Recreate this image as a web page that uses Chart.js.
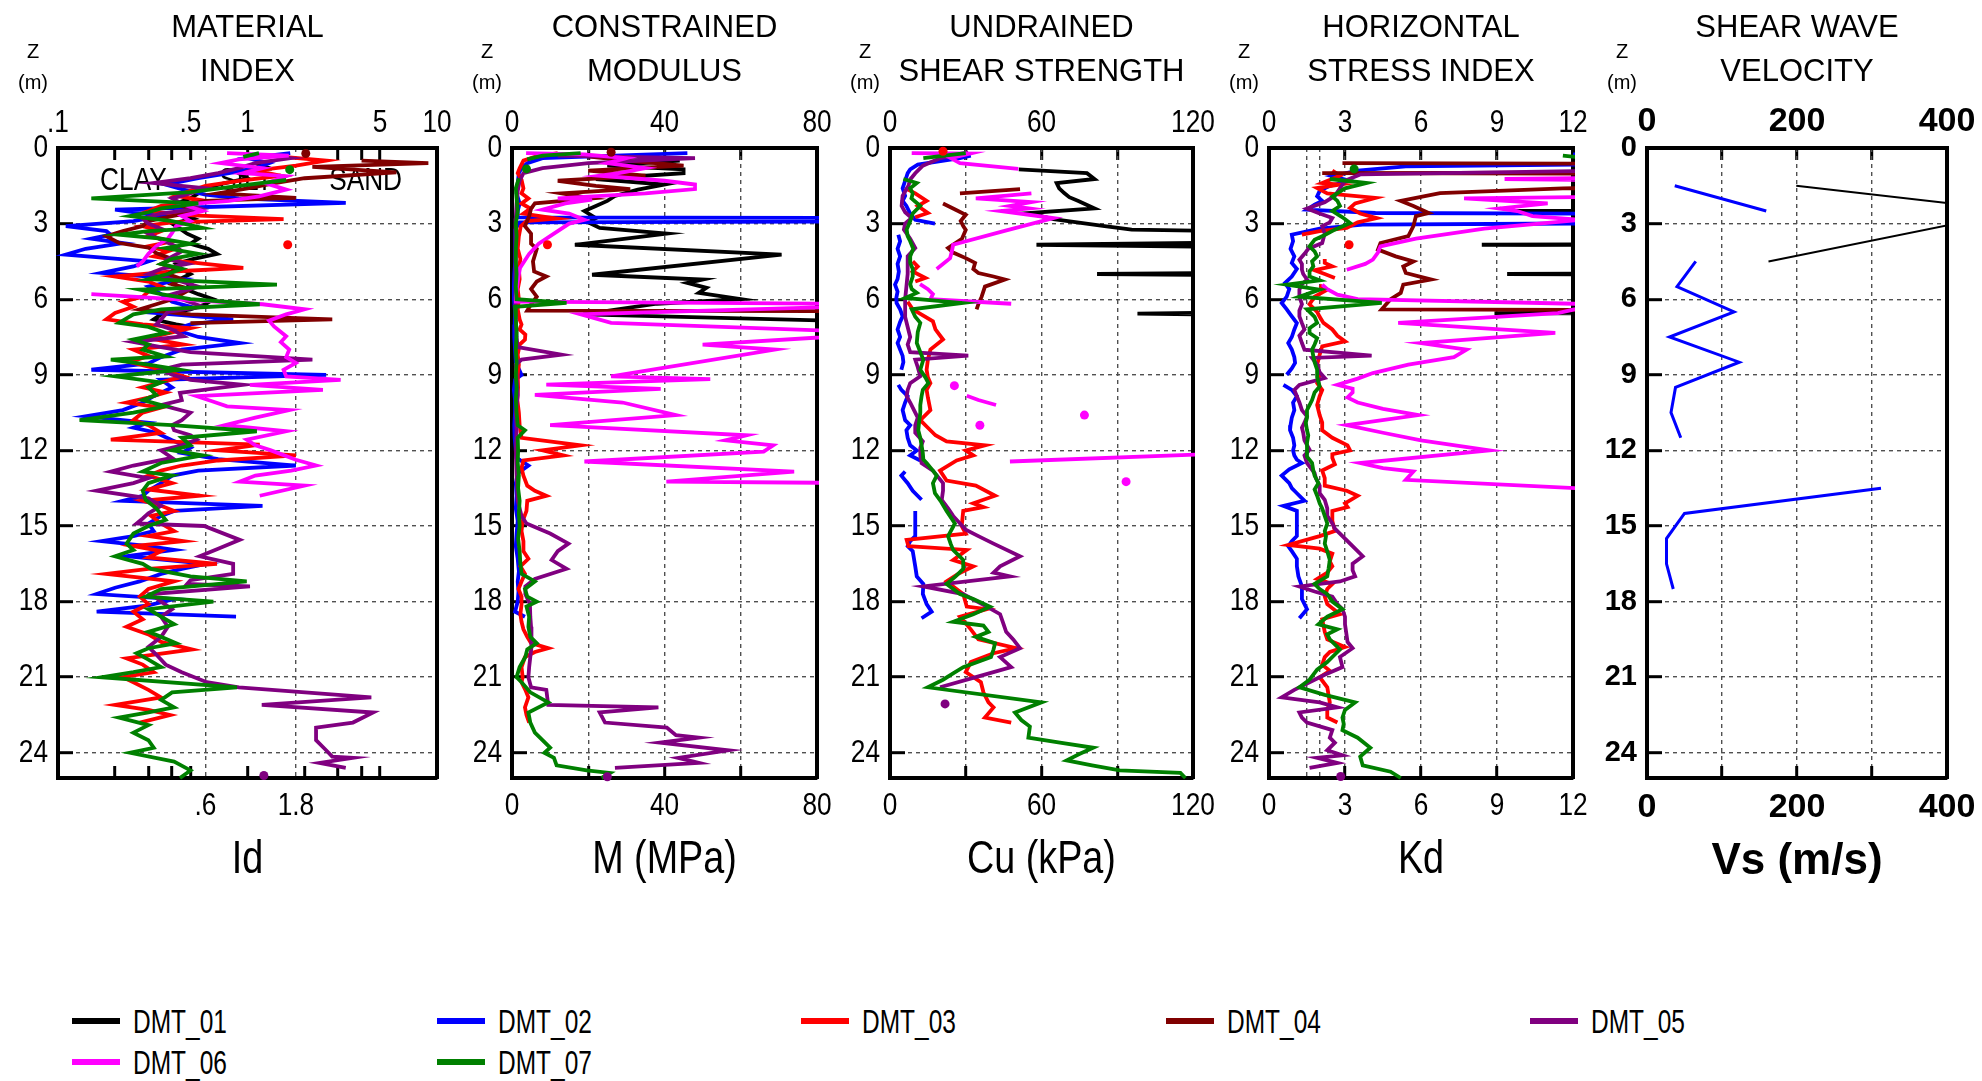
<!DOCTYPE html>
<html>
<head>
<meta charset="utf-8">
<title>DMT soundings</title>
<script src="https://cdn.jsdelivr.net/npm/chart.js@4/dist/chart.umd.min.js"></script>
<style>
  html, body { margin: 0; padding: 0; background: #fff; }
  #page { position: relative; width: 1982px; height: 1081px; overflow: hidden; background: #fff;
          font-family: 'Liberation Sans', Arial, sans-serif; color: #000; }
  #page canvas { position: absolute; top: 0; }
  .ttl { position: absolute; top: 5px; font-size: 31px; line-height: 44px; text-align: center;
         white-space: nowrap; transform: translateX(-50%); }
  .zl { position: absolute; text-align: center; transform: translateX(-50%); line-height: 1;
        white-space: nowrap; font-size: 20px; }
  .leg { position: absolute; height: 40px; display: flex; align-items: center; white-space: nowrap;
         font-size: 34px; }
  .leg i { display: inline-block; width: 48px; height: 6px; margin-right: 13px; }
  .leg span { display: inline-block; transform: scaleX(0.72); transform-origin: 0 50%; }
</style>
</head>
<body>
<div id="page"></div>
<script>
// ---- series ----
const SERIES = ['DMT_01', 'DMT_02', 'DMT_03', 'DMT_04', 'DMT_05', 'DMT_06', 'DMT_07'];
const COLORS = ['#000000', '#0000ff', '#ff0000', '#800000', '#800080', '#ff00ff', '#008000'];

// ---- depth axis ----
const Z_TICKS = [0, 3, 6, 9, 12, 15, 18, 21, 24];
const Z_LABELS = ['0', '3', '6', '9', '12', '15', '18', '21', '24'];

// ---- panel texts ----
const PANEL_TITLES = [['MATERIAL', 'INDEX'], ['CONSTRAINED', 'MODULUS'], ['UNDRAINED', 'SHEAR STRENGTH'],
                      ['HORIZONTAL', 'STRESS INDEX'], ['SHEAR WAVE', 'VELOCITY']];
const AXIS_TITLES = ['Id', 'M (MPa)', 'Cu (kPa)', 'Kd', 'Vs (m/s)'];
const ZONE_LABELS = ['CLAY', 'SILT', 'SAND'];
const ZONE_ID = [0.25, 0.98, 4.2];
const ZONE_Z = 1.32;

// ---- x tick values / labels ----
const ID_TOP_TICKS = [0.1, 0.5, 1, 5, 10];
const ID_TOP_LABELS = ['.1', '.5', '1', '5', '10'];
const ID_BOTTOM_TICKS = [0.6, 1.8];
const ID_BOTTOM_LABELS = ['.6', '1.8'];
const ID_MINOR = [0.2, 0.3, 0.4, 0.5, 1, 2, 3, 4, 5];
const ID_GRID = [0.6, 1.8];

const M_TICKS = [0, 40, 80];
const M_LABELS = ['0', '40', '80'];
const M_MINOR = [20, 40, 60];

const CU_TICKS = [0, 60, 120];
const CU_LABELS = ['0', '60', '120'];
const CU_MINOR = [30, 60, 90];

const KD_TICKS = [0, 3, 6, 9, 12];
const KD_LABELS = ['0', '3', '6', '9', '12'];
const KD_MINOR = [3, 6, 9];
const KD_GRID = [1.5, 2, 3, 6, 9];

const VS_TICKS = [0, 200, 400];
const VS_LABELS = ['0', '200', '400'];
const VS_MINOR = [100, 200, 300];

// ---- material index Id : [depth m, Id] ----
const ID_01 = [[0.6,1.1],[0.8,1.3],[1.0,0.9],[1.2,1.0],[1.4,0.75],[1.6,0.6],[1.8,0.55],[2.0,0.5],[2.2,0.42],[2.4,0.5],[2.6,0.45],[2.8,0.52],[3.0,0.4],[3.2,0.44],[3.4,0.48],[3.6,0.55],[3.8,0.5],[4.0,0.62],[4.2,0.69],[4.4,0.52],[4.6,0.42],[4.8,0.45],[5.0,0.5],[5.2,0.44],[5.4,0.5],[5.6,0.47],[5.8,0.55],[6.0,0.66],[6.2,0.6],[6.4,0.5],[6.6,0.35],[6.8,0.32],[7.0,0.42],[7.1,0.5]];
const ID_02 = [[0.2,1.68],[0.4,1.0],[0.6,1.3],[0.8,1.1],[1.0,0.8],[1.2,0.55],[1.45,0.37],[1.65,0.46],[1.85,0.6],[2.0,0.9],[2.18,3.3],[2.45,0.2],[2.7,0.35],[2.9,0.25],[3.1,0.11],[3.3,0.18],[3.44,0.19],[3.6,0.15],[3.77,0.22],[4.0,0.14],[4.23,0.11],[4.5,0.3],[4.7,0.25],[4.96,0.17],[5.2,0.45],[5.5,0.3],[5.8,0.35],[6.1,0.4],[6.3,0.5],[6.55,0.33],[6.8,0.84],[7.0,0.5],[7.2,0.41],[7.5,0.55],[7.74,0.91],[8.0,0.45],[8.3,0.35],[8.55,0.3],[8.8,0.15],[9.0,2.6],[9.2,0.35],[9.5,0.4],[9.85,0.32],[10.1,0.28],[10.4,0.22],[10.65,0.14],[10.9,0.3],[11.1,0.25],[11.3,0.33],[11.6,0.4],[11.9,0.5],[12.1,0.45],[12.35,0.7],[12.6,1.8],[12.8,0.55],[13.0,0.4],[13.3,0.35],[13.6,0.3],[13.8,0.28],[14.0,0.22],[14.2,1.2],[14.4,0.41],[14.6,0.35],[14.9,0.3],[15.2,0.32],[15.4,0.25],[15.6,0.17],[15.8,0.3],[15.95,0.41],[16.2,0.23],[16.5,0.61],[16.7,0.45],[16.9,0.35],[17.2,0.27],[17.45,0.2],[17.7,0.16],[17.9,0.41],[18.15,0.3],[18.4,0.16],[18.6,0.87]];
const ID_03 = [[0.3,1.3],[0.5,2.6],[0.7,1.8],[0.9,1.1],[1.1,1.5],[1.3,0.9],[1.5,0.6],[1.7,0.5],[1.9,0.42],[2.1,0.6],[2.3,0.35],[2.5,0.3],[2.65,0.45],[2.82,1.55],[2.95,0.4],[3.1,0.28],[3.3,0.35],[3.5,0.3],[3.7,0.4],[3.9,0.3],[4.1,0.38],[4.3,0.32],[4.5,0.45],[4.76,0.95],[4.9,0.4],[5.1,0.2],[5.3,0.3],[5.5,0.35],[5.7,0.3],[5.9,0.28],[6.1,0.22],[6.3,0.25],[6.55,0.2],[6.8,0.18],[7.0,0.28],[7.15,0.5],[7.34,0.39],[7.55,0.3],[7.8,0.46],[8.0,0.25],[8.25,0.3],[8.5,0.24],[8.8,0.35],[9.06,0.46],[9.3,0.35],[9.5,0.28],[9.7,0.37],[9.9,0.3],[10.1,0.23],[10.3,0.35],[10.5,0.28],[10.8,0.25],[11.0,0.3],[11.3,0.35],[11.57,0.19],[11.77,1.16],[12.0,0.7],[12.2,1.8],[12.4,0.7],[12.6,0.45],[12.8,0.35],[13.0,0.3],[13.3,0.4],[13.55,0.3],[13.8,0.56],[14.0,0.28],[14.2,0.35],[14.4,0.41],[14.6,0.31],[14.9,0.35],[15.2,0.41],[15.4,0.3],[15.6,0.46],[15.8,0.25],[16.0,0.35],[16.25,0.3],[16.5,0.69],[16.7,0.3],[16.9,0.18],[17.2,0.41],[17.5,0.3],[17.8,0.27],[18.1,0.3],[18.4,0.25],[18.7,0.28],[19.0,0.23],[19.3,0.3],[19.6,0.35],[19.9,0.51],[20.25,0.23],[20.5,0.28],[20.8,0.32],[21.0,0.22],[21.2,0.25],[21.5,0.3],[21.8,0.35],[22.1,0.2],[22.3,0.3],[22.5,0.39],[22.8,0.27]];
const ID_04 = [[0.5,4.0],[0.6,9.0],[0.75,2.2],[0.97,6.1],[1.2,2.0],[1.4,1.37],[1.6,1.0],[1.8,0.7],[1.98,1.8],[2.1,0.6],[2.3,0.45],[2.5,0.55],[2.7,0.4],[2.9,0.3],[3.1,0.28],[3.3,0.22],[3.5,0.18],[3.77,0.21],[3.95,0.3],[4.17,0.33],[4.4,0.4],[4.6,0.35],[4.8,0.42],[5.0,0.38],[5.2,0.45],[5.4,0.4],[5.6,0.5],[5.8,0.45],[6.0,0.4],[6.2,0.33],[6.4,0.27],[6.6,0.5],[6.8,2.8],[6.95,0.5]];
const ID_05 = [[0.3,1.3],[0.4,1.68],[0.6,1.1],[0.8,0.9],[1.0,0.7],[1.2,0.5],[1.39,0.32],[1.6,0.6],[1.8,0.5],[2.0,0.4],[2.2,0.45],[2.4,0.56],[2.6,0.35],[2.8,0.28],[3.0,0.3],[3.2,0.35],[3.4,0.3],[3.64,0.35],[3.9,0.42],[4.1,0.45],[4.4,0.38],[4.6,0.48],[4.8,0.35],[5.0,0.3],[5.3,0.45],[5.5,0.55],[5.8,0.4],[6.0,0.45],[6.3,0.58],[6.5,0.38],[6.8,0.35],[7.0,0.33],[7.2,0.4],[7.47,0.46],[7.7,0.25],[7.9,0.35],[8.1,0.5],[8.4,2.2],[8.6,0.45],[8.8,0.35],[9.0,0.4],[9.2,0.5],[9.4,0.95],[9.72,0.44],[10.0,0.45],[10.2,0.35],[10.5,0.5],[10.8,0.45],[11.0,0.4],[11.2,0.41],[11.4,0.5],[11.57,0.54],[11.8,0.45],[12.0,0.35],[12.3,0.4],[12.6,0.25],[12.84,0.19],[13.1,0.3],[13.3,0.25],[13.6,0.16],[13.9,0.3],[14.2,0.35],[14.5,0.3],[14.7,0.28],[14.9,0.26],[15.0,0.59],[15.55,0.91],[15.9,0.7],[16.2,0.56],[16.5,0.84],[16.9,0.84],[17.15,0.5],[17.3,0.48],[17.4,1.03],[17.7,0.31],[18.0,0.35],[18.3,0.4],[18.6,0.35],[19.0,0.38],[19.4,0.35],[19.8,0.3],[20.1,0.33],[20.5,0.37],[20.8,0.45],[21.2,0.61],[21.4,0.9],[21.8,4.5],[22.1,1.19],[22.4,4.6],[22.8,3.6],[23.0,2.3],[23.5,2.3],[23.9,2.6],[24.15,2.8],[24.2,3.6],[24.4,2.4],[24.6,3.3]];
const ID_06 = [[0.2,0.78],[0.3,1.65],[0.45,0.9],[0.6,0.72],[0.8,1.2],[1.0,0.95],[1.12,1.6],[1.4,1.25],[1.65,1.6],[1.92,1.15],[2.1,0.8],[2.25,0.46],[2.5,0.58],[2.7,0.45],[2.9,0.5],[3.1,0.42],[3.37,0.4],[3.6,0.38],[3.9,0.33],[4.2,0.3],[4.5,0.28],[4.7,0.26],[4.9,null],[5.8,0.15],[6.0,0.41],[6.2,1.2],[6.4,2.0],[6.6,1.6],[6.85,1.3],[7.08,1.38],[7.3,1.5],[7.47,1.6],[7.7,1.5],[8.0,1.66],[8.3,1.6],[8.53,1.8],[8.8,1.55],[9.06,1.6],[9.2,3.1],[9.4,1.03],[9.6,2.5],[9.85,0.54],[10.05,0.65],[10.25,0.78],[10.4,1.66],[10.7,1.1],[11.0,0.76],[11.24,1.6],[11.57,0.99],[11.8,1.1],[12.0,1.33],[12.37,1.8],[12.6,2.3],[12.8,1.7],[13.0,1.1],[13.24,0.91],[13.4,2.0],[13.8,1.16]];
const ID_07 = [[0.2,1.15],[0.35,0.95],[0.5,null],[1.27,1.6],[1.5,0.9],[1.75,0.5],[2.0,0.15],[2.2,0.55],[2.4,0.35],[2.55,0.3],[2.7,0.24],[2.9,0.4],[3.17,0.58],[3.3,0.3],[3.44,0.21],[3.6,0.35],[3.8,0.5],[3.97,0.37],[4.2,0.55],[4.4,0.4],[4.6,0.35],[4.8,0.45],[5.0,0.38],[5.2,0.3],[5.42,1.43],[5.62,0.27],[5.8,0.35],[6.0,0.5],[6.2,1.16],[6.4,0.35],[6.6,0.25],[6.94,0.21],[7.1,0.3],[7.34,0.37],[7.6,0.25],[7.8,0.3],[8.0,0.28],[8.27,0.37],[8.4,0.19],[8.6,0.3],[8.8,0.44],[9.06,0.2],[9.3,0.35],[9.5,0.3],[9.8,0.33],[10.0,0.28],[10.25,0.37],[10.5,0.25],[10.8,0.13],[11.0,0.4],[11.24,1.12],[11.5,0.45],[11.8,0.5],[12.0,0.4],[12.2,0.58],[12.5,0.35],[12.84,0.28],[13.0,0.4],[13.3,0.3],[13.6,0.28],[13.96,0.29],[14.3,0.33],[14.76,0.37],[15.0,0.3],[15.3,0.25],[15.7,0.23],[15.95,0.25],[16.2,0.2],[16.5,0.28],[16.7,0.31],[17.0,0.5],[17.2,0.99],[17.5,0.35],[17.8,0.29],[18.0,0.66],[18.3,0.3],[18.6,0.35],[18.9,0.41],[19.2,0.3],[19.4,0.35],[19.65,0.42],[19.85,0.3],[20.05,0.26],[20.3,0.3],[20.6,0.35],[20.8,0.25],[21.0,0.17],[21.4,0.88],[21.6,0.4],[21.9,0.35],[22.2,0.41],[22.4,0.3],[22.6,0.21],[22.9,0.3],[23.2,0.25],[23.5,0.3],[23.8,0.32],[24.0,0.24],[24.35,0.41],[24.7,0.5],[25.0,0.44]];
// single readings : [series index, depth m, Id]
const ID_DOTS = [[3,0.22,2.03],[6,0.86,1.67],[2,3.84,1.63],[4,24.9,1.22]];

// ---- constrained modulus M (MPa) ----
const M_01 = [[0.5,44],[0.7,25],[0.85,45],[1.0,45],[1.23,22],[1.45,40],[1.65,33],[1.9,27],[2.1,25],[2.3,22],[2.5,19],[2.78,22],[2.95,20],[3.17,23],[3.4,40.6],[3.84,16.5],[4.23,70.7],[5.03,21],[5.22,50],[5.35,46],[5.55,51],[5.75,49],[6.0,60],[6.18,38],[6.6,18.7],[6.95,110]];
const M_02 = [[0.2,46],[0.4,8],[0.6,4],[0.8,2.5],[1.0,1.8],[1.4,1.5],[1.8,1.2],[2.2,2],[2.5,1.5],[2.75,1.5],[2.8,150],[2.9,150],[2.95,2],[3.2,1],[3.6,1],[4.0,0.8],[4.5,0.8],[5.0,0.6],[5.5,0.5],[6.0,0.5],[6.5,0.8],[7.0,0.7],[7.5,0.6],[8.0,0.8],[8.5,1.0],[9.0,2.5],[9.2,0.8],[9.6,0.5],[10.0,0.8],[10.5,0.8],[11.0,0.6],[11.5,0.7],[12.0,1.0],[12.3,1.2],[12.6,4.3],[12.9,1.5],[13.3,1.0],[13.8,1.2],[14.3,1.0],[14.8,1.5],[15.3,1.2],[15.8,1.0],[16.3,1.5],[16.8,1.8],[17.2,1.5],[17.6,1.7],[18.0,1.5],[18.4,0.8],[18.6,3.4]];
const M_03 = [[0.2,12],[0.35,6],[0.5,3],[0.8,2],[1.0,1.5],[1.26,2.5],[1.6,3],[1.8,2.5],[2.0,4.3],[2.2,2.5],[2.4,4.8],[2.6,3],[2.7,7.3],[2.8,11.7],[2.9,3.8],[3.1,2.3],[3.5,1.8],[4.0,1.5],[4.4,2.2],[4.8,1.8],[5.2,2.0],[5.6,1.5],[6.0,1.8],[6.4,1.5],[6.8,2.0],[7.0,2.5],[7.2,2.0],[7.4,3.5],[7.6,3.4],[7.8,2.0],[8.2,1.5],[8.6,1.8],[9.0,1.5],[9.5,1.6],[10.0,1.4],[10.5,1.8],[11.0,2.0],[11.5,2.5],[11.8,18],[12.0,8],[12.2,13.5],[12.4,3],[12.7,2.5],[13.0,3],[13.4,4],[13.6,6],[13.8,9],[14.0,4],[14.4,3.8],[14.8,2.8],[15.2,2.5],[15.6,3],[16.0,3],[16.3,4.3],[16.6,2.2],[16.9,3.4],[17.2,2.5],[17.5,1.7],[17.8,2.5],[18.1,2.5],[18.5,2.2],[18.8,2.5],[19.1,3],[19.4,4],[19.65,5],[19.85,9.5],[20.0,6],[20.2,3.4],[20.6,2.5],[21.0,2.8],[21.2,2.5],[21.5,3.5],[21.8,4.3],[22.2,3.4],[22.5,3.8],[22.8,4.5]];
const M_04 = [[0.3,18],[0.5,30],[0.7,45],[0.9,20],[1.1,35],[1.3,12],[1.5,22],[1.63,31],[1.8,13],[2.0,21],[2.2,6],[2.4,5],[2.7,4.5],[3.1,3.4],[3.4,5],[3.8,5],[4.0,6.5],[4.5,5.5],[4.9,5.8],[5.1,9],[5.3,6.5],[5.6,5],[5.9,6.5],[6.2,5],[6.45,4],[6.55,300]];
const M_05 = [[0.3,12],[0.4,48],[0.6,20],[0.8,8],[1.0,3],[1.3,2],[1.7,1.5],[2.2,1.2],[2.8,1.0],[3.5,1.0],[4.5,0.8],[5.5,0.9],[6.5,1.0],[7.5,1.2],[7.9,1.5],[8.2,13],[8.4,2.5],[8.6,1.0],[9.2,1.2],[9.8,1.5],[10.5,1.0],[11.2,1.2],[12.0,1.0],[13.0,1.2],[14.0,1.5],[14.6,2.5],[14.9,3.8],[15.3,10],[15.7,14.8],[16.0,12],[16.35,10.4],[16.7,14.3],[17.1,6],[17.4,3.5],[17.7,3.5],[18.1,4.7],[18.6,4.8],[19.0,5],[19.4,5.2],[19.8,5],[20.2,4.8],[20.6,4.5],[21.0,4.3],[21.4,5],[21.5,9],[22.1,9.5],[22.2,38.4],[22.4,23],[22.8,24.4],[23.0,40.6],[23.3,43],[23.4,49],[23.6,38.8],[23.9,56.7],[24.2,43.6],[24.4,49],[24.6,27]];
const M_06 = [[0.2,3.7],[0.25,19],[0.4,30],[0.6,25],[0.8,35],[1.0,28],[1.1,23],[1.3,40],[1.45,48],[1.63,48],[1.8,35],[2.0,12],[2.05,21],[2.2,14],[2.45,8],[2.6,15],[2.85,19],[3.0,15],[3.4,11],[3.8,7],[4.2,4.5],[4.76,2.1],[5.3,1.5],[5.9,1.0],[6.1,1.0],[6.2,110],[6.6,18],[6.94,26],[7.34,100],[7.8,50],[8.0,69],[9.06,26],[9.17,52],[9.39,9],[9.56,39],[9.8,6],[10.1,29],[10.6,43],[11.0,10],[11.4,61.5],[11.6,56],[11.8,68.5],[12.05,66],[12.44,19],[12.84,74],[13.24,40.5],[13.3,95]];
const M_07 = [[0.2,18],[0.3,8],[0.45,4],[0.6,null],[1.2,1.8],[1.6,1.0],[2.0,1.2],[2.5,1.5],[3.0,1.0],[3.5,1.2],[4.0,1.0],[4.5,1.0],[5.0,1.2],[5.5,1.0],[6.0,1.2],[6.15,14.3],[6.3,0.8],[6.8,1.0],[7.3,1.2],[8.0,1.0],[8.5,1.2],[9.0,1.0],[9.5,1.2],[10.0,1.0],[10.5,1.2],[11.0,1.5],[11.2,3.4],[11.5,1.5],[12.0,1.6],[12.5,1.5],[13.0,1.8],[13.5,1.6],[14.0,2.0],[14.5,1.8],[15.0,2.0],[15.5,1.6],[16.0,2.0],[16.5,2.2],[16.9,2.5],[17.2,6],[17.5,3.4],[17.8,4],[18.0,6.5],[18.2,3.8],[18.6,4.5],[19.0,4.3],[19.4,4.8],[19.65,6.5],[19.9,4],[20.2,3.5],[20.6,2],[21.0,1.2],[21.2,2.5],[21.6,4.8],[22.0,9.5],[22.4,4.3],[22.8,4.8],[23.2,6],[23.5,8],[23.8,10],[24.0,8.5],[24.2,11],[24.5,11.7],[24.7,19.6],[24.8,25.7],[25.0,23.5]];
const M_DOTS = [[3,0.17,26],[6,0.83,3.8],[2,3.84,9.3],[4,24.95,25]];

// ---- undrained shear strength Cu (kPa) ----
const CU_01 = [[0.85,51],[1.0,78],[1.23,81],[1.39,66],[1.6,67],[1.79,69],[1.95,71],[2.1,74.6],[2.4,81],[2.58,55],[2.82,64.7],[3.1,85],[3.24,95.7],[3.35,170],[3.7,170],[3.84,58],[4.0,200],[4.9,200],[5.0,82],[5.1,200],[6.45,200],[6.57,98],[6.72,200],[7.0,200]];
const CU_02 = [[0.3,32],[0.4,27.7],[0.66,11],[0.85,8],[1.0,7],[1.3,6],[1.6,5],[1.9,6],[2.1,5],[2.3,6.5],[2.6,8],[2.85,10],[3.0,17.8],[3.1,null],[3.44,3.3],[3.7,4],[4.0,3],[4.3,4],[4.6,3],[4.9,3.5],[5.2,3],[5.42,2],[5.7,3],[5.95,2.5],[6.15,2.6],[6.4,4],[6.68,5],[6.9,4],[7.2,3],[7.5,4],[7.74,3],[8.0,4],[8.25,5],[8.5,5.3],[8.8,4.5],[8.95,null],[9.4,3.3],[9.6,4.5],[9.85,7],[10.1,6],[10.4,5],[10.8,6],[11.0,8],[11.2,6.5],[11.5,7],[11.8,8],[12.0,10.6],[12.2,8],[12.4,12],[12.55,null],[12.84,6],[13.0,4.5],[13.3,7],[13.6,9],[13.96,12.5],[14.1,null],[14.4,10],[14.7,10],[15.0,10],[15.4,10],[15.6,8],[15.8,7],[16.0,9],[16.3,9.5],[16.6,10],[17.0,10.6],[17.3,13.2],[17.7,13],[18.1,14.5],[18.4,16.5],[18.66,12.5]];
const CU_03 = [[1.59,6],[1.8,10],[2.1,14.5],[2.3,11],[2.58,15],[2.75,10],[2.9,null],[4.5,9],[4.7,11],[4.9,9],[5.16,14],[5.3,10],[5.45,null],[6.1,7],[6.4,9],[6.88,17],[7.2,18],[7.6,21],[8.0,16],[8.4,15],[8.8,14.5],[9.1,15],[9.33,16],[9.6,14.5],[9.9,15],[10.4,16],[10.8,12],[11.1,15],[11.4,18],[11.64,22.4],[11.8,37.6],[12.0,30],[12.2,33],[12.4,26.4],[12.8,19.8],[13.2,22.4],[13.4,34],[13.8,41.6],[14.1,33],[14.25,37],[14.4,29],[15.0,28.4],[15.3,30],[15.55,6.6],[15.8,7.3],[15.95,30.4],[16.35,25],[16.6,33],[16.9,27],[17.2,22.4],[17.7,29],[18.2,30.4],[18.3,38.3],[18.6,27.7],[19.1,32],[19.5,35],[19.85,50],[20.05,41],[20.4,32],[20.8,30],[21.2,36],[21.6,37],[22.0,39],[22.2,41],[22.6,37.6],[22.8,48]];
const CU_04 = [[1.63,51.5],[1.8,27.7],[1.95,null],[2.2,21],[2.45,26],[2.65,30],[2.9,28],[3.1,29],[3.25,30],[3.6,28.5],[3.97,23],[4.15,25],[4.37,30],[4.56,33.7],[4.8,33],[4.96,35],[5.1,41],[5.22,45.5],[5.5,37.6],[5.9,36.3],[6.2,35],[6.4,34.3]];
const CU_05 = [[0.17,31],[0.4,20],[0.7,13],[1.0,10],[1.25,8],[1.5,7.3],[1.9,5],[2.3,4.6],[2.55,6],[2.78,8.6],[3.0,6],[3.24,5.5],[3.6,8],[3.97,10],[4.3,7],[4.56,7],[5.0,7],[5.5,6.5],[6.0,6],[6.4,6],[6.7,6],[7.1,7],[7.5,8],[7.8,7],[8.1,8],[8.24,31],[8.4,10],[8.7,11],[9.06,12],[9.33,8],[9.6,7],[9.85,6.6],[10.1,8],[10.4,9.5],[10.7,11],[11.0,10],[11.3,10],[11.64,13],[11.9,12],[12.2,12],[12.5,12.5],[12.8,17],[13.05,19],[13.3,21],[13.6,21],[13.96,20.5],[14.3,23],[14.6,25],[15.15,30],[15.4,35],[15.7,41],[16.2,51.5],[16.6,43.6],[16.85,41],[17.0,47.5],[17.4,13.2],[17.7,29],[18.2,38.3],[18.5,43.6],[18.9,45],[19.2,46],[19.5,48.8],[19.85,51.5],[20.2,43.6],[20.6,48],[21.0,34],[21.4,19.8]];
const CU_06 = [[0.2,8.6],[0.22,31.7],[0.4,24],[0.6,27.7],[0.83,50.8],[0.9,null],[1.8,56],[2.0,34],[2.15,56],[2.3,47.5],[2.4,55],[2.5,44],[2.78,64.7],[3.3,45],[3.84,25],[4.1,24.5],[4.37,23.8],[4.8,18.5],[5.0,null],[5.4,11.9],[5.6,15],[5.8,17],[6.0,16],[6.18,48],[6.3,null],[9.83,30.4],[10.0,35],[10.2,42],[10.3,null],[12.15,125],[12.44,47.5]];
const CU_07 = [[0.2,30],[0.4,13.2],[0.55,null],[1.23,5.3],[1.39,10.6],[1.6,8],[1.8,9],[2.0,8.5],[2.3,12],[2.6,9],[2.9,8],[3.24,6.6],[3.5,7],[3.7,8],[4.0,9.2],[4.3,8],[4.56,8],[4.8,9],[5.1,9],[5.4,8],[5.6,8.6],[5.75,10.6],[5.95,6],[6.15,28.4],[6.4,8.6],[6.7,10],[6.94,12],[7.3,11],[7.74,10.6],[8.1,12],[8.4,13.2],[8.8,12],[9.1,14],[9.33,15.2],[9.6,13],[9.85,12.5],[10.2,12],[10.5,12],[10.9,11.5],[11.2,11.2],[11.5,12],[11.8,12.5],[12.1,13],[12.36,13.2],[12.5,14.5],[12.8,17],[13.0,18.5],[13.3,17],[13.7,17.8],[14.0,20],[14.4,22.4],[14.9,25.7],[15.4,23],[15.7,24],[15.95,25],[16.35,29],[16.7,29],[17.0,26],[17.3,22.4],[17.7,27.7],[17.9,33],[18.2,39.6],[18.5,33],[18.8,25],[18.95,37],[19.2,39],[19.4,34],[19.65,41.6],[19.9,41],[20.2,40],[20.6,29],[20.85,25],[21.1,21],[21.4,15],[22.0,60],[22.4,49.5],[22.7,52],[22.96,55.4],[23.4,54.8],[23.6,67.3],[23.8,80.5],[24.05,75],[24.3,70],[24.5,80],[24.7,91],[24.8,115],[25.0,117]];
const CU_DOTS = [[2,0.13,21],[5,9.43,25.5],[5,10.6,77],[5,11.0,35.6],[5,13.24,93.5],[4,22.06,21.8]];

// ---- horizontal stress index Kd ----
const KD_01 = [[0.6,40],[2.4,40],[2.5,9.6],[2.6,40],[3.7,40],[3.84,8.4],[3.98,40],[4.88,40],[5.0,9.4],[5.12,40],[6.4,40],[6.55,8.9],[6.7,40],[7.0,40]];
const KD_02 = [[0.25,12],[0.4,14],[0.57,20],[0.73,5.4],[0.9,3.5],[1.12,2.5],[1.3,3.2],[1.5,2.4],[1.7,2.0],[1.92,1.9],[2.1,2.1],[2.25,1.8],[2.45,1.5],[2.58,4.2],[2.65,30],[2.9,30],[3.04,3.7],[3.2,2],[3.44,0.9],[3.7,0.95],[4.0,0.85],[4.3,1.0],[4.56,0.9],[4.8,1.1],[5.1,0.9],[5.36,0.63],[5.6,0.8],[5.9,0.7],[6.15,0.5],[6.4,0.7],[6.68,0.9],[6.95,1.1],[7.2,1.0],[7.5,0.9],[7.74,0.76],[8.0,0.9],[8.3,1.0],[8.53,1.03],[8.75,0.9],[9.0,0.7],[9.15,null],[9.4,0.57],[9.6,0.9],[9.85,1.1],[10.1,0.95],[10.4,1.0],[10.7,0.9],[11.0,0.85],[11.2,0.83],[11.5,0.95],[11.8,1.0],[12.0,0.95],[12.2,1.0],[12.37,1.1],[12.5,1.3],[12.75,0.8],[13.0,0.5],[13.3,0.8],[13.5,0.9],[13.7,1.1],[14.0,1.4],[14.2,0.57],[14.4,1.1],[14.7,1.1],[15.0,1.1],[15.4,1.1],[15.6,0.9],[15.8,0.76],[16.0,0.9],[16.3,1.1],[16.6,1.1],[17.0,1.16],[17.4,1.3],[17.9,1.3],[18.3,1.5],[18.66,1.2]];
const KD_03 = [[0.9,2.5],[1.1,2.8],[1.39,2.1],[1.45,2.8],[1.59,1.9],[1.8,2.3],[1.98,4.2],[2.2,3.4],[2.38,3.2],[2.6,3.6],[2.78,4.25],[2.95,3.5],[3.17,3.07],[3.3,2.0],[3.44,1.3],[3.5,null],[4.4,2.2],[4.56,2.2],[4.7,2.5],[4.85,1.8],[5.0,2.2],[5.16,2.6],[5.3,null],[5.45,2.0],[5.62,2.3],[5.9,1.8],[6.2,1.6],[6.5,1.9],[6.7,2.0],[6.94,2.15],[7.2,2.5],[7.45,2.7],[7.67,3.0],[7.87,2.1],[8.2,2.0],[8.6,1.9],[9.0,2.0],[9.33,1.9],[9.6,2.1],[9.85,2.0],[10.2,1.9],[10.6,2.0],[10.9,2.1],[11.2,2.1],[11.5,2.5],[11.8,3.1],[12.0,3.2],[12.15,2.5],[12.3,2.5],[12.55,2.6],[12.8,2.1],[13.1,2.2],[13.4,2.2],[13.6,3.07],[13.8,3.5],[14.1,3.0],[14.25,3.1],[14.4,2.5],[14.8,2.5],[15.2,2.6],[15.4,2.0],[15.75,0.76],[15.9,2.0],[16.1,2.5],[16.4,2.4],[16.6,2.5],[16.85,2.3],[17.1,1.9],[17.3,2.5],[17.5,2.3],[17.8,2.2],[18.1,2.3],[18.5,2.8],[18.7,2.1],[19.2,2.2],[19.5,2.3],[19.8,3.0],[20.0,2.4],[20.2,2.2],[20.5,2.1],[20.75,2.4],[21.0,2.0],[21.4,2.3],[22.0,2.4],[22.3,2.3],[22.6,2.3],[22.8,2.7]];
const KD_04 = [[0.6,2.9],[0.7,50],[0.9,50],[1.0,2.1],[1.1,50],[1.45,50],[1.6,11.6],[1.79,6.75],[2.1,5.2],[2.3,5.7],[2.58,6.3],[2.7,5.8],[3.1,5.7],[3.5,5.5],[3.77,4.4],[4.03,4.3],[4.3,5.0],[4.5,5.7],[4.7,5.3],[4.96,5.4],[5.22,6.4],[5.42,5.3],[5.75,5.2],[6.0,4.8],[6.4,4.45],[6.55,50]];
const KD_05 = [[0.3,20],[0.8,20],[1.05,3.6],[1.3,3.0],[1.6,2.8],[1.9,2.6],[2.15,2.2],[2.4,1.5],[2.6,2.0],[2.78,2.5],[2.95,2.4],[3.1,2.1],[3.4,2.2],[3.77,2.1],[4.0,1.55],[4.2,1.4],[4.43,1.2],[4.6,1.3],[4.83,1.3],[5.0,1.35],[5.22,1.5],[5.4,1.3],[5.62,1.2],[5.9,1.2],[6.2,1.3],[6.45,1.2],[6.68,1.2],[6.95,1.3],[7.2,1.4],[7.45,1.2],[7.74,1.3],[8.0,1.4],[8.24,4.05],[8.33,1.7],[8.6,1.9],[8.9,2.0],[9.13,2.2],[9.4,1.2],[9.6,1.0],[9.85,1.1],[10.1,1.2],[10.4,1.3],[10.65,1.5],[10.9,1.4],[11.1,1.3],[11.3,1.35],[11.6,1.4],[11.97,1.6],[12.2,1.4],[12.5,1.5],[12.9,1.8],[13.1,1.85],[13.4,2.0],[13.7,2.0],[13.96,2.2],[14.3,2.3],[14.6,2.3],[14.9,2.5],[15.1,2.6],[15.4,2.9],[15.8,3.3],[16.2,3.7],[16.5,3.3],[16.75,3.3],[17.0,3.4],[17.2,2.8],[17.4,1.2],[17.6,1.8],[17.8,2.5],[18.1,2.7],[18.3,2.9],[18.6,3.0],[18.9,3.0],[19.25,3.05],[19.6,3.1],[19.85,3.3],[20.2,2.8],[20.6,2.9],[20.9,2.2],[21.2,1.6],[21.5,1.0],[21.8,0.5],[22.0,2.0],[22.2,2.7],[22.4,1.2],[22.6,1.3],[22.8,1.5],[23.1,2.5],[23.4,2.4],[23.6,2.6],[23.9,2.3],[24.1,2.9],[24.2,1.9],[24.4,2.7],[24.6,1.6]];
const KD_06 = [[0.3,20],[1.1,20],[1.23,9.3],[1.35,20],[1.85,20],[2.0,7.7],[2.2,11],[2.4,9.1],[2.5,9.8],[2.7,10.4],[2.85,12.3],[3.2,8.5],[3.6,5.8],[3.9,4.4],[4.15,4.3],[4.43,4.1],[4.6,3.8],[4.83,3.07],[4.9,null],[5.42,2.1],[5.6,2.3],[5.82,2.7],[6.0,3.5],[6.2,13],[6.55,11.4],[6.94,5.1],[7.34,11.3],[7.74,6.0],[8.0,7.8],[8.3,7.3],[8.6,5.5],[8.93,4.1],[9.15,3.5],[9.4,2.7],[9.55,3.3],[9.7,3.3],[9.9,3.1],[10.1,3.5],[10.35,4.5],[10.6,5.9],[11.0,3.07],[11.3,4.5],[11.6,6.0],[12.0,8.7],[12.5,3.6],[12.7,4.5],[12.84,5.7],[13.17,5.4],[13.5,12.2]];
const KD_07 = [[0.3,11.6],[0.4,12.5],[0.5,null],[1.23,2.4],[1.39,3.85],[1.6,3.0],[1.92,2.5],[2.1,2.7],[2.3,2.8],[2.5,2.5],[2.75,2.9],[2.98,3.2],[3.24,2.6],[3.45,2.2],[3.64,1.8],[3.9,1.6],[4.1,1.8],[4.3,1.9],[4.5,1.7],[4.7,1.75],[4.9,1.6],[5.1,1.6],[5.25,2.0],[5.42,0.7],[5.62,2.0],[5.9,1.2],[6.15,4.45],[6.4,1.5],[6.7,1.8],[6.94,1.9],[7.15,1.6],[7.34,1.6],[7.55,1.9],[7.8,1.8],[8.0,1.7],[8.27,1.75],[8.5,1.8],[8.8,1.9],[9.1,1.9],[9.46,2.0],[9.7,1.8],[10.0,1.7],[10.4,1.5],[10.7,1.5],[10.9,1.45],[11.2,1.5],[11.4,1.55],[11.7,1.5],[12.0,1.5],[12.25,1.5],[12.5,1.7],[12.8,1.75],[13.0,1.8],[13.3,1.95],[13.55,1.8],[13.8,1.9],[14.1,2.0],[14.3,2.1],[14.6,2.2],[14.9,2.3],[15.2,2.2],[15.4,2.25],[15.7,2.2],[16.0,2.3],[16.35,2.4],[16.7,2.35],[17.0,2.3],[17.3,1.8],[17.5,2.0],[17.7,2.3],[18.0,2.5],[18.3,2.9],[18.6,2.3],[18.9,1.95],[19.1,2.7],[19.3,2.3],[19.5,2.4],[19.9,2.8],[20.1,2.6],[20.4,2.3],[20.7,1.9],[21.1,1.6],[21.4,1.2],[21.7,2.2],[22.0,3.4],[22.3,3.0],[22.6,2.9],[22.85,2.95],[23.1,2.9],[23.4,3.5],[23.8,4.0],[24.15,3.6],[24.5,3.7],[24.75,4.8],[25.0,5.2]];
const KD_DOTS = [[6,0.83,3.36],[2,3.84,3.16],[4,24.94,2.83]];

// ---- shear wave velocity Vs (m/s) ----
const VS_01 = [[1.5,199],[2.5,495],[4.5,162]];
const VS_02 = [[1.5,37],[2.5,159],[3.5,null],[4.5,65],[5.5,40],[6.5,116],[7.5,30],[8.5,123],[9.5,38],[10.5,32],[11.5,45],[12.5,null],[13.5,312],[14.5,50],[15.5,26],[16.5,26],[17.5,35]];

// ---- layout ----
const CANVAS_H = 900, PLOT_TOP = 148, PLOT_BOTTOM = 778, Y_AXIS_W = 58, PAD_RIGHT = 42;
const SANS = "'Liberation Sans', Arial, sans-serif";
const GRID_COLOR = '#505050';
const CLEAR = 'rgba(0,0,0,0)';

const PANELS = [
  { left: 58, right: 437, type: 'logarithmic', min: 0.1, max: 10,
    series: [ID_01, ID_02, ID_03, ID_04, ID_05, ID_06, ID_07], dots: ID_DOTS,
    top: [ID_TOP_TICKS, ID_TOP_LABELS], bottom: [ID_BOTTOM_TICKS, ID_BOTTOM_LABELS],
    minor: ID_MINOR, grid: ID_GRID, zones: true },
  { left: 512, right: 817, type: 'linear', min: 0, max: 80,
    series: [M_01, M_02, M_03, M_04, M_05, M_06, M_07], dots: M_DOTS,
    top: [M_TICKS, M_LABELS], bottom: [M_TICKS, M_LABELS], minor: M_MINOR, grid: M_MINOR },
  { left: 890, right: 1193, type: 'linear', min: 0, max: 120,
    series: [CU_01, CU_02, CU_03, CU_04, CU_05, CU_06, CU_07], dots: CU_DOTS,
    top: [CU_TICKS, CU_LABELS], bottom: [CU_TICKS, CU_LABELS], minor: CU_MINOR, grid: CU_MINOR },
  { left: 1269, right: 1573, type: 'linear', min: 0, max: 12,
    series: [KD_01, KD_02, KD_03, KD_04, KD_05, KD_06, KD_07], dots: KD_DOTS,
    top: [KD_TICKS, KD_LABELS], bottom: [KD_TICKS, KD_LABELS], minor: KD_MINOR, grid: KD_GRID },
  { left: 1647, right: 1947, type: 'linear', min: 0, max: 400,
    series: [VS_01, VS_02], dots: [], widths: [2, 3], bold: true,
    top: [VS_TICKS, VS_LABELS], bottom: [VS_TICKS, VS_LABELS], minor: VS_MINOR, grid: VS_MINOR }
];

function tickFont(p, forDepth) {
  if (p.bold) return { family: SANS, size: forDepth ? 29 : 34, weight: 'bold', lineHeight: 1.2 };
  return { family: SANS, size: 32, weight: 'normal', lineHeight: 1.2 };
}

// keep the plot box fixed: no extra room is reserved for labels overhanging the box ends
function noOverhang(s) { s.paddingLeft = 0; s.paddingRight = 0; s.paddingTop = 0; s.paddingBottom = 0; }

function xAxis(p, position, ticks, labels, withGrid) {
  const labelOf = new Map(ticks.map((v, i) => [v, labels[i]]));
  const marks = new Set(p.minor);
  const gridSet = new Set(withGrid ? p.grid : []);
  const values = [...new Set([p.min, p.max, ...ticks, ...p.minor, ...gridSet])].sort((a, b) => a - b);
  return {
    type: p.type, position, min: p.min, max: p.max,
    afterBuildTicks: s => { s.ticks = values.map(v => ({ value: v })); },
    afterFit: s => { s.height = position === 'top' ? PLOT_TOP : CANVAS_H - PLOT_BOTTOM; noOverhang(s); },
    ticks: { autoSkip: false, maxRotation: 0, minRotation: 0, color: '#000', font: tickFont(p, false),
             padding: position === 'top' ? 18 : 21,
             callback: (v, i, t) => labelOf.has(t[i].value) ? labelOf.get(t[i].value) : '' },
    grid: { display: true, drawOnChartArea: withGrid, drawTicks: true, tickLength: -12, tickWidth: 3,
            lineWidth: 1.4,
            tickColor: c => marks.has(c.tick.value) ? '#000' : CLEAR,
            color: c => gridSet.has(c.tick.value) ? GRID_COLOR : CLEAR },
    border: { display: true, width: 4, color: '#000', dash: [4, 4] },
    title: position === 'bottom'
      ? { display: true, text: p.axisTitle, color: '#000', padding: { top: 0, bottom: 12 },
          font: p.bold ? { family: SANS, size: 44, weight: 'bold', lineHeight: 1.2 }
                       : { family: SANS, size: 46, weight: 'normal', lineHeight: 1.2 } }
      : { display: false }
  };
}

function depthAxis(p) {
  return {
    type: 'linear', position: 'left', reverse: true, min: 0, max: 25,
    afterBuildTicks: s => { s.ticks = Z_TICKS.map(v => ({ value: v })); },
    afterFit: s => { s.width = Y_AXIS_W; noOverhang(s); },
    ticks: { autoSkip: false, color: '#000', padding: 25, font: tickFont(p, true),
             callback: (v, i) => Z_LABELS[i] },
    grid: { display: true, drawTicks: true, tickLength: -15, tickWidth: 3, lineWidth: 1.4,
            tickColor: c => c.tick.value === 0 ? CLEAR : '#000',
            color: c => c.tick.value === 0 ? CLEAR : GRID_COLOR },
    border: { display: true, width: 4, color: '#000', dash: [4, 4] }
  };
}

// condensed lettering: every text run is squeezed horizontally about its anchor point
const condensedText = {
  id: 'condensedText',
  beforeInit(chart, args, opts) {
    const k = opts.factor;
    if (!k || k === 1) return;
    const ctx = chart.ctx;
    const fill = ctx.fillText.bind(ctx);
    ctx.fillText = function (text, x, y, maxWidth) {
      ctx.save();
      ctx.translate(x, y);
      ctx.scale(k, 1);
      if (maxWidth === undefined) fill(text, 0, 0); else fill(text, 0, 0, maxWidth / k);
      ctx.restore();
    };
  }
};

const zoneText = {
  id: 'zoneText',
  beforeDatasetsDraw(chart, args, opts) {
    if (!opts.show) return;
    const { ctx } = chart, x = chart.scales.x, y = chart.scales.y;
    ctx.save();
    ctx.font = '32px ' + SANS;
    ctx.fillStyle = '#000';
    ctx.textAlign = 'center';
    ctx.textBaseline = 'middle';
    ZONE_LABELS.forEach((t, i) => ctx.fillText(t, x.getPixelForValue(ZONE_ID[i]), y.getPixelForValue(ZONE_Z)));
    ctx.restore();
  }
};

const page = document.getElementById('page');

PANELS.forEach((p, pi) => {
  p.axisTitle = AXIS_TITLES[pi];
  const canvas = document.createElement('canvas');
  const w = Y_AXIS_W + (p.right - p.left) + 2 + PAD_RIGHT;
  canvas.width = w; canvas.height = CANVAS_H;
  canvas.style.left = (p.left - Y_AXIS_W) + 'px';
  canvas.style.width = w + 'px'; canvas.style.height = CANVAS_H + 'px';
  page.appendChild(canvas);

  const datasets = [];
  p.series.forEach((arr, si) => {
    if (!arr) return;
    datasets.push({
      label: SERIES[si], data: arr.map(([z, v]) => ({ x: v, y: z })),
      showLine: true, borderColor: COLORS[si], backgroundColor: COLORS[si],
      borderWidth: p.widths ? p.widths[si] : 3.8, pointRadius: 0, pointHoverRadius: 0,
      tension: 0, spanGaps: false, clip: 2, order: 20 - si, xAxisID: 'x', yAxisID: 'y'
    });
  });
  SERIES.forEach((name, si) => {
    const pts = p.dots.filter(d => d[0] === si);
    if (!pts.length) return;
    datasets.push({
      label: name + ' reading', data: pts.map(d => ({ x: d[2], y: d[1] })),
      showLine: false, pointRadius: 4.5, pointBorderWidth: 0,
      backgroundColor: COLORS[si], borderColor: COLORS[si], order: 0, clip: 6, xAxisID: 'x', yAxisID: 'y'
    });
  });

  new Chart(canvas, {
    type: 'scatter',
    data: { datasets },
    options: {
      responsive: false, animation: false, devicePixelRatio: 1, events: [],
      layout: { padding: { left: 0, right: PAD_RIGHT, top: 0, bottom: 0 } },
      scales: {
        xTop: xAxis(p, 'top', p.top[0], p.top[1], false),
        x: xAxis(p, 'bottom', p.bottom[0], p.bottom[1], true),
        y: depthAxis(p),
        yRight: { type: 'linear', position: 'right', reverse: true, min: 0, max: 25,
                  afterFit: s => { s.width = 2; noOverhang(s); },
                  ticks: { display: false }, grid: { display: false },
                  border: { display: true, width: 4, color: '#000' } }
      },
      plugins: { legend: { display: false }, tooltip: { enabled: false }, title: { display: false },
                 zoneText: { show: !!p.zones },
                 condensedText: { factor: p.bold ? 1 : 0.82 } }
    },
    plugins: [condensedText, zoneText]
  });

  // panel title
  const t = document.createElement('div');
  t.className = 'ttl';
  t.style.left = ((p.left + p.right) / 2) + 'px';
  t.innerHTML = PANEL_TITLES[pi].join('<br>');
  page.appendChild(t);
  // depth unit
  const z1 = document.createElement('div');
  z1.className = 'zl'; z1.style.left = (p.left - 25) + 'px'; z1.style.top = '41px';
  z1.textContent = 'Z';
  const z2 = document.createElement('div');
  z2.className = 'zl'; z2.style.left = (p.left - 25) + 'px'; z2.style.top = '72px';
  z2.textContent = '(m)';
  page.appendChild(z1); page.appendChild(z2);
});

// legend
SERIES.forEach((name, i) => {
  const d = document.createElement('div');
  d.className = 'leg';
  d.style.left = (72 + (i % 5) * 364.5) + 'px';
  d.style.top = (i < 5 ? 1001 : 1042) + 'px';
  const sw = document.createElement('i');
  sw.style.background = COLORS[i];
  const tx = document.createElement('span');
  tx.textContent = name;
  d.appendChild(sw);
  d.appendChild(tx);
  page.appendChild(d);
});
</script>
</body>
</html>
